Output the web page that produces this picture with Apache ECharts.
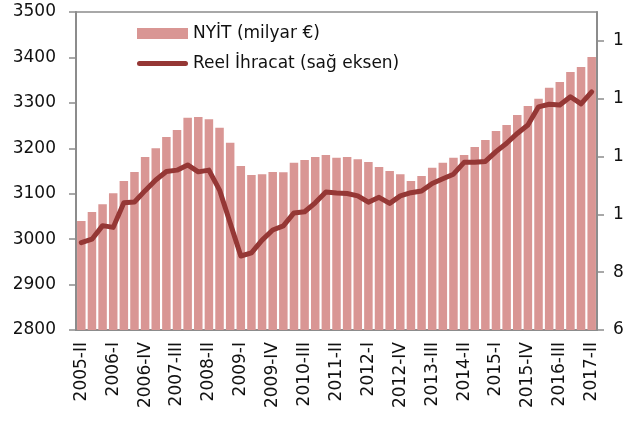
<!doctype html>
<html>
	<head>
		<meta charset="UTF-8">
		<title></title>
		<script src="https://cdn.jsdelivr.net/npm/echarts@6/dist/echarts.min.js"></script>
		<style>
			html,body{margin:0;padding:0;background:#fff;}
			#wrap{width:624px;height:421px;overflow:hidden;}
			#main{width:680px;height:421px;}
		</style>
	</head>
	<body>
		<div id="wrap"><div id="main"></div></div>
		<script type="text/javascript">
			// çeyrekler 2005-II .. 2017-II
			var donemler = [];
			var romen = ['I','II','III','IV'];
			for (var y = 2005; y <= 2017; y++) {
				for (var q = 0; q < 4; q++) {
					if (y == 2005 && q == 0) continue;
					if (y == 2017 && q > 1) continue;
					donemler.push(y + '-' + romen[q]);
				}
			}
			// NYİT (milyar €) - sol eksen
			var nyit = [3040, 3060, 3077, 3101, 3128, 3148, 3181, 3200, 3225, 3240,
				3267, 3269, 3264, 3245, 3212, 3161, 3141, 3143, 3148, 3147,
				3168, 3174, 3181, 3185, 3179, 3181, 3176, 3170, 3159, 3150,
				3143, 3128, 3139, 3157, 3168, 3179, 3185, 3203, 3218, 3238,
				3251, 3273, 3293, 3309, 3333, 3346, 3368, 3379, 3401];
			// Reel ihracat - sağ eksen
			var ihracat = [90.2, 91.4, 96.1, 95.5, 104.0, 104.3, 108.2, 111.9, 114.8, 115.3,
				117.1, 114.7, 115.3, 108.4, 97.0, 85.6, 86.7, 91.1, 94.6, 96.0,
				100.5, 100.9, 104.0, 107.7, 107.4, 107.2, 106.4, 104.2, 105.9, 103.8,
				106.4, 107.5, 108.1, 110.7, 112.3, 113.9, 118.0, 118.0, 118.3, 121.7,
				124.6, 128.0, 130.9, 137.2, 138.1, 137.8, 140.7, 138.2, 142.4];

			var gri = '#8c8c8c';
			var yazi = 'DejaVu Sans';
			var cizgiIkon = 'path://M2.5,0 L48.5,0 A2.5,2.5 0 0 1 48.5,5 L2.5,5 A2.5,2.5 0 0 1 2.5,0 Z';
			var myChart = echarts.init(document.getElementById('main'));
			var option = {
				animation: false,
				textStyle: {fontFamily: yazi},
				grid: {left: 76, top: 12, width: 521, bottom: 91, show: true, borderColor: gri, borderWidth: 1.5},
				legend: {
					orient: 'vertical', left: 132, top: 20, itemGap: 13,
					itemWidth: 51, itemHeight: 11,
					textStyle: {fontSize: 17, color: '#111', fontFamily: yazi},
					data: [{name: 'NYİT (milyar €)', icon: 'rect'}, {name: 'Reel İhracat (sağ eksen)', icon: cizgiIkon}]
				},
				xAxis: {
					type: 'category', data: donemler,
					axisLine: {lineStyle: {color: gri, width: 2}},
					axisTick: {show: false},
					axisLabel: {rotate: 90, interval: 2, margin: 12, fontSize: 17, color: '#111', fontFamily: yazi}
				},
				yAxis: [{
					type: 'value', min: 2800, max: 3500, interval: 100,
					splitLine: {show: false},
					axisLine: {show: true, lineStyle: {color: gri, width: 2}},
					axisTick: {show: true, length: 7, lineStyle: {color: gri, width: 1.5}},
					axisLabel: {margin: 20, fontSize: 17, color: '#111', fontFamily: yazi, formatter: function (v) { return String(v); }}
				}, {
					type: 'value', min: 60, max: 170, interval: 20,
					splitLine: {show: false},
					axisLine: {show: true, lineStyle: {color: gri, width: 2}},
					axisTick: {show: true, length: 7, lineStyle: {color: gri, width: 1.5}},
					axisLabel: {margin: 16, fontSize: 17, color: '#111', fontFamily: yazi, showMaxLabel: false}
				}],
				series: [{
					name: 'NYİT (milyar €)', type: 'bar', data: nyit,
					barWidth: 8.5,
					itemStyle: {color: '#d99694'}
				}, {
					name: 'Reel İhracat (sağ eksen)', type: 'line', yAxisIndex: 1, data: ihracat,
					symbol: 'none',
					lineStyle: {color: '#953735', width: 5, cap: 'round', join: 'round'},
					itemStyle: {color: '#953735'}
				}]
			};
			myChart.setOption(option);
		</script>
	</body>
</html>
